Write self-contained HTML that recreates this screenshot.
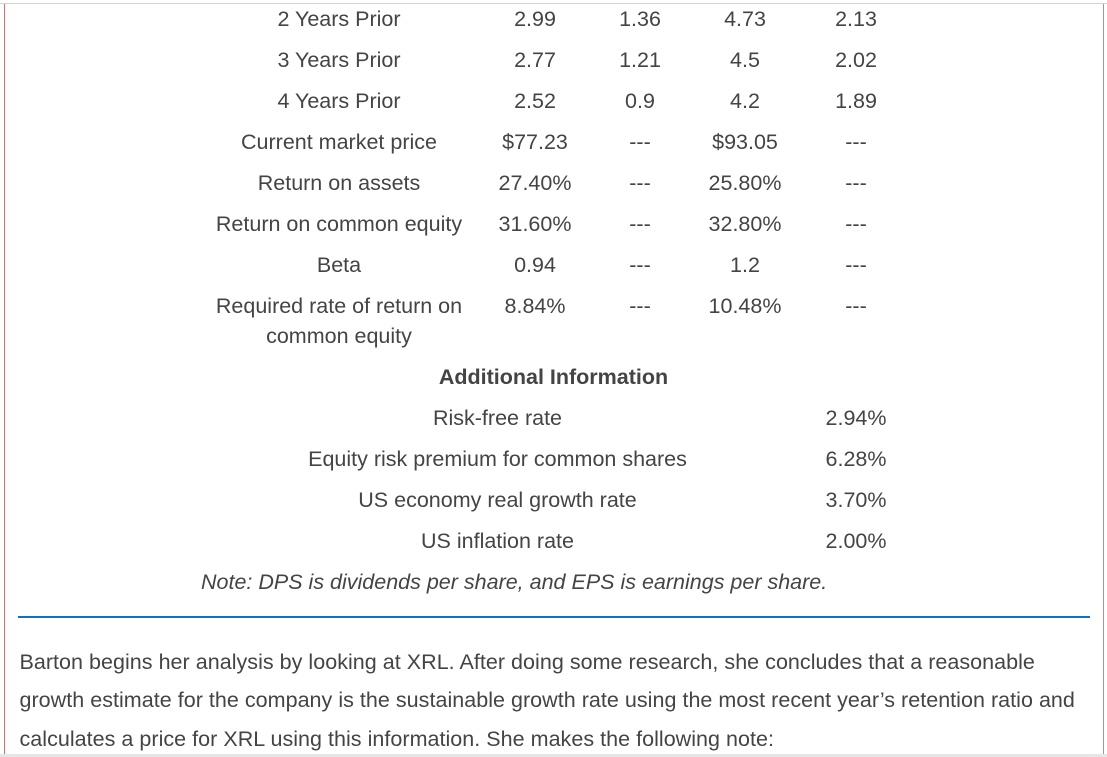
<!DOCTYPE html>
<html>
<head>
<meta charset="utf-8">
<style>
  html, body { margin:0; padding:0; }
  body { width:1107px; height:757px; position:relative; overflow:hidden; background:#fff;
         font-family:"Liberation Sans", Arial, sans-serif; font-size:21.5px; color:#444444; }
  .t { position:absolute; white-space:nowrap; line-height:30px; height:30px; }
  .c { width:400px; text-align:center; }
  .b { font-weight:bold; }
  .i { font-style:italic; }
  .p { letter-spacing:0.03px; }
</style>
</head>
<body>
<div style="position:absolute;left:0;top:3px;width:1107px;height:1px;background:#d2d2d2"></div>
<div style="position:absolute;left:4px;top:4px;width:1px;height:750px;background:#d8726a"></div>
<div style="position:absolute;left:1103px;top:4px;width:1px;height:750px;background:#c98a85"></div>
<div style="position:absolute;left:0;top:754px;width:1107px;height:3px;background:#e6e6e6"></div>
<div style="position:absolute;left:18px;top:616px;width:1072px;height:2px;background:#1470b8"></div>

<div class="t c" style="left:139px;top:3.5px">2 Years Prior</div>
<div class="t c" style="left:335px;top:3.5px">2.99</div>
<div class="t c" style="left:440px;top:3.5px">1.36</div>
<div class="t c" style="left:545px;top:3.5px">4.73</div>
<div class="t c" style="left:656px;top:3.5px">2.13</div>

<div class="t c" style="left:139px;top:44.5px">3 Years Prior</div>
<div class="t c" style="left:335px;top:44.5px">2.77</div>
<div class="t c" style="left:440px;top:44.5px">1.21</div>
<div class="t c" style="left:545px;top:44.5px">4.5</div>
<div class="t c" style="left:656px;top:44.5px">2.02</div>

<div class="t c" style="left:139px;top:85.5px">4 Years Prior</div>
<div class="t c" style="left:335px;top:85.5px">2.52</div>
<div class="t c" style="left:440px;top:85.5px">0.9</div>
<div class="t c" style="left:545px;top:85.5px">4.2</div>
<div class="t c" style="left:656px;top:85.5px">1.89</div>

<div class="t c" style="left:139px;top:126.5px">Current market price</div>
<div class="t c" style="left:335px;top:126.5px">$77.23</div>
<div class="t c" style="left:440px;top:126.5px">---</div>
<div class="t c" style="left:545px;top:126.5px">$93.05</div>
<div class="t c" style="left:656px;top:126.5px">---</div>

<div class="t c" style="left:139px;top:167.5px">Return on assets</div>
<div class="t c" style="left:335px;top:167.5px">27.40%</div>
<div class="t c" style="left:440px;top:167.5px">---</div>
<div class="t c" style="left:545px;top:167.5px">25.80%</div>
<div class="t c" style="left:656px;top:167.5px">---</div>

<div class="t c" style="left:139px;top:208.5px">Return on common equity</div>
<div class="t c" style="left:335px;top:208.5px">31.60%</div>
<div class="t c" style="left:440px;top:208.5px">---</div>
<div class="t c" style="left:545px;top:208.5px">32.80%</div>
<div class="t c" style="left:656px;top:208.5px">---</div>

<div class="t c" style="left:139px;top:249.5px">Beta</div>
<div class="t c" style="left:335px;top:249.5px">0.94</div>
<div class="t c" style="left:440px;top:249.5px">---</div>
<div class="t c" style="left:545px;top:249.5px">1.2</div>
<div class="t c" style="left:656px;top:249.5px">---</div>

<div class="t c" style="left:139px;top:290.5px">Required rate of return on</div>
<div class="t c" style="left:139px;top:320.5px">common equity</div>
<div class="t c" style="left:335px;top:290.5px">8.84%</div>
<div class="t c" style="left:440px;top:290.5px">---</div>
<div class="t c" style="left:545px;top:290.5px">10.48%</div>
<div class="t c" style="left:656px;top:290.5px">---</div>

<div class="t c b" style="left:353.5px;top:361.5px">Additional Information</div>

<div class="t c" style="left:297.5px;top:402.5px">Risk-free rate</div>
<div class="t c" style="left:656px;top:402.5px">2.94%</div>

<div class="t c" style="left:297.5px;top:443.5px">Equity risk premium for common shares</div>
<div class="t c" style="left:656px;top:443.5px">6.28%</div>

<div class="t c" style="left:297.5px;top:484.5px">US economy real growth rate</div>
<div class="t c" style="left:656px;top:484.5px">3.70%</div>

<div class="t c" style="left:297.5px;top:525.5px">US inflation rate</div>
<div class="t c" style="left:656px;top:525.5px">2.00%</div>

<div class="t i" style="left:201px;top:567px">Note: DPS is dividends per share, and EPS is earnings per share.</div>

<div class="t p" style="left:19.5px;top:646.5px">Barton begins her analysis by looking at XRL. After doing some research, she concludes that a reasonable</div>
<div class="t p" style="left:19.5px;top:685px">growth estimate for the company is the sustainable growth rate using the most recent year’s retention ratio and</div>
<div class="t p" style="left:19.5px;top:724px">calculates a price for XRL using this information. She makes the following note:</div>
</body>
</html>
